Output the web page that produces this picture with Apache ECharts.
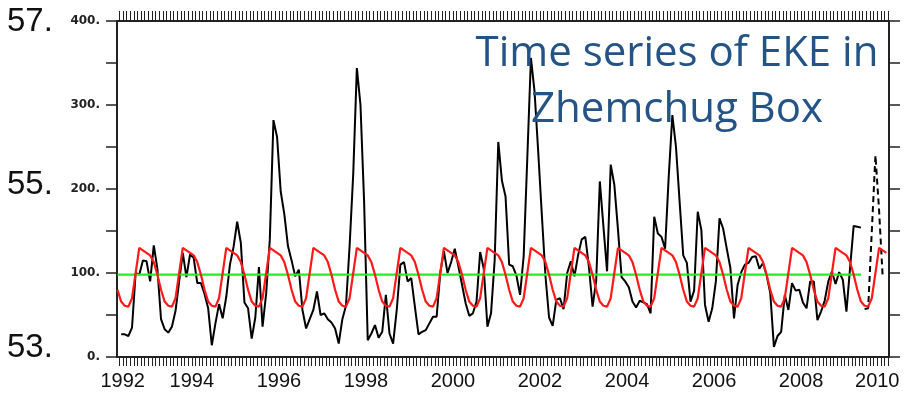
<!DOCTYPE html>
<html>
<head>
<meta charset="utf-8">
<script src="https://cdn.jsdelivr.net/npm/echarts@6/dist/echarts.min.js"></script>
<style>
html,body{margin:0;padding:0;background:#fff;}
#chart{width:904px;height:397px;}
</style>
</head>
<body>
<div id="chart"></div>
<script>
// ---------------- data ----------------
// monthly EKE, solid black line, starting May 1992
const blackStart = [1992, 5];
const blackEKE = [
  27, 27, 25, 35, 100, 98, 115, 114,                       // 1992 May-Dec
  90, 133, 105, 45, 33, 29, 36, 55, 90, 124, 95, 122,      // 1993
  118, 88, 88, 75, 58, 14, 40, 63, 46, 72, 110, 131,       // 1994
  161, 136, 65, 58, 22, 47, 107, 36, 76, 140, 282, 262,    // 1995
  197, 170, 132, 115, 96, 104, 56, 34, 45, 56, 78, 50,     // 1996
  52, 45, 41, 34, 16, 45, 61, 132, 218, 344, 300, 185,     // 1997
  20, 28, 38, 23, 30, 74, 28, 16, 56, 110, 113, 90,        // 1998
  94, 60, 27, 30, 32, 40, 48, 48, 100, 126, 100, 113,      // 1999
  129, 108, 86, 64, 49, 52, 66, 125, 105, 36, 52, 115,     // 2000
  256, 210, 191, 110, 108, 97, 74, 120, 237, 356, 316, 245,// 2001
  170, 97, 47, 37, 68, 70, 57, 100, 114, 96, 121, 140,     // 2002
  143, 107, 60, 91, 209, 155, 102, 229, 205, 152, 95, 90,  // 2003
  83, 66, 59, 67, 65, 63, 52, 167, 147, 143, 129, 215,     // 2004
  288, 250, 185, 121, 112, 66, 79, 173, 151, 62, 42, 58,   // 2005
  90, 165, 153, 129, 106, 46, 86, 101, 110, 112, 119, 120, // 2006
  105, 112, 97, 76, 12, 25, 30, 74, 56, 88, 79, 80,        // 2007
  65, 58, 90, 90, 44, 54, 67, 90, 102, 87, 101, 92,        // 2008
  54, 106, 156, 155, 154                                   // 2009 Jan-May
];
// dashed black line (near-real-time), starting June 2009
const dashStart = [2009, 6];
const dashEKE = [57, 58, 150, 240, 175, 95];
// red: monthly climatology Jan..Dec, drawn Apr 1992 - Dec 2009
const climatology = [121, 113, 98, 80, 66, 61, 60, 70, 100, 130, 127, 124];
const climStart = [1992, 4];
const climEnd = [2009, 12];
// green: long-term mean, Apr 1992 - May 2009
const meanEKE = 98;
const meanStart = [1992, 4];
const meanEnd = [2009, 5];
// axes
const xLabelYears = [1992, 1994, 1996, 1998, 2000, 2002, 2004, 2006, 2008, 2010];
const yMin = 0, yMax = 400, yTickStep = 50, yLabelStep = 100;
const sideLabels = ['57.', '55.', '53.'];
const titleLines = ['Time series of EKE in', 'Zhemchug Box'];

// ---------------- build ----------------
const mt = (y, m) => y + (m - 0.5) / 12;
function monthSeq(start, values) {
  return values.map((v, i) => {
    const idx = start[1] - 1 + i;
    return [mt(start[0] + Math.floor(idx / 12), (idx % 12) + 1), v];
  });
}
const blackData = monthSeq(blackStart, blackEKE);
const dashData = monthSeq(dashStart, dashEKE);
const redData = [];
for (let y = climStart[0]; y <= climEnd[0]; y++) {
  const m0 = (y === climStart[0]) ? climStart[1] : 1;
  const m1 = (y === climEnd[0]) ? climEnd[1] : 12;
  for (let m = m0; m <= m1; m++) redData.push([mt(y, m), climatology[m - 1]]);
}
const greenData = [[mt(meanStart[0], meanStart[1]), meanEKE], [mt(meanEnd[0], meanEnd[1]), meanEKE]];

const xMin = 1992.28, xMax = 2010.02;
const monthTicks = [];
for (let k = Math.ceil(xMin * 12); k / 12 <= xMax; k++) monthTicks.push(k / 12);
const labelPos = xLabelYears.map(y => Math.min(Math.max(y, xMin + 0.13), xMax - 0.27));

const axisCol = '#222';
const chart = echarts.init(document.getElementById('chart'), null, {renderer: 'canvas'});
chart.setOption({
  animation: false,
  backgroundColor: '#fff',
  grid: {left: 117, right: 15, top: 21, bottom: 40, containLabel: false, outerBoundsMode: 'none'},
  xAxis: [{
    type: 'value', min: xMin, max: xMax, position: 'bottom',
    axisLine: {show: true, onZero: false, lineStyle: {color: axisCol, width: 2}},
    axisTick: {show: true, inside: false, length: 9, customValues: monthTicks, lineStyle: {color: axisCol, width: 1}},
    axisLabel: {show: true, customValues: labelPos, margin: 14,
      formatter: v => String(Math.round(v / 2) * 2),
      fontFamily: 'Liberation Sans', fontSize: 20, color: '#111'},
    splitLine: {show: false}
  }, {
    type: 'value', min: xMin, max: xMax, position: 'top',
    axisLine: {show: true, onZero: false, lineStyle: {color: axisCol, width: 2}},
    axisTick: {show: true, inside: false, length: 10, customValues: monthTicks, lineStyle: {color: axisCol, width: 1}},
    axisLabel: {show: false},
    splitLine: {show: false}
  }],
  yAxis: [{
    type: 'value', min: yMin, max: yMax, interval: yTickStep, position: 'left',
    axisLine: {show: true, onZero: false, lineStyle: {color: axisCol, width: 2}},
    axisTick: {show: true, inside: false, length: 11, lineStyle: {color: axisCol, width: 1.5}},
    axisLabel: {show: true, margin: 17, fontFamily: 'DejaVu Sans', fontWeight: 'bold', fontSize: 12, color: '#222',
      formatter: v => (v % yLabelStep === 0 ? v + '.' : '')},
    splitLine: {show: false}
  }, {
    type: 'value', min: yMin, max: yMax, interval: yTickStep, position: 'right',
    axisLine: {show: true, onZero: false, lineStyle: {color: axisCol, width: 2}},
    axisTick: {show: true, inside: false, length: 11, lineStyle: {color: axisCol, width: 1.5}},
    axisLabel: {show: false},
    splitLine: {show: false}
  }],
  series: [
    {type: 'line', name: 'EKE', data: blackData, showSymbol: false, xAxisIndex: 0, yAxisIndex: 0,
      lineStyle: {color: '#000', width: 2}, z: 2},
    {type: 'line', name: 'EKE NRT', data: dashData, showSymbol: false,
      lineStyle: {color: '#000', width: 2, type: [6, 4]}, z: 2},
    {type: 'line', name: 'Mean', data: greenData, showSymbol: false,
      lineStyle: {color: '#22ee22', width: 2.2}, z: 3},
    {type: 'line', name: 'Climatology', data: redData, showSymbol: false,
      lineStyle: {color: '#ff1a1a', width: 2.2}, z: 4}
  ],
  graphic: [
    {type: 'text', x: 7, y: 22, style: {text: sideLabels[0], font: '33px "Liberation Sans"', fill: '#111', verticalAlign: 'middle', textVerticalAlign: 'middle'}},
    {type: 'text', x: 7, y: 185, style: {text: sideLabels[1], font: '33px "Liberation Sans"', fill: '#111', verticalAlign: 'middle', textVerticalAlign: 'middle'}},
    {type: 'text', x: 7, y: 348, style: {text: sideLabels[2], font: '33px "Liberation Sans"', fill: '#111', verticalAlign: 'middle', textVerticalAlign: 'middle'}},
    {type: 'text', x: 677, y: 54, z: 10, style: {text: titleLines[0], font: '42px "Open Sans"', fill: '#245486', align: 'center', textAlign: 'center', verticalAlign: 'middle', textVerticalAlign: 'middle'}},
    {type: 'text', x: 677, y: 110, z: 10, style: {text: titleLines[1], font: '42px "Open Sans"', fill: '#245486', align: 'center', textAlign: 'center', verticalAlign: 'middle', textVerticalAlign: 'middle'}}
  ]
});
</script>
</body>
</html>
